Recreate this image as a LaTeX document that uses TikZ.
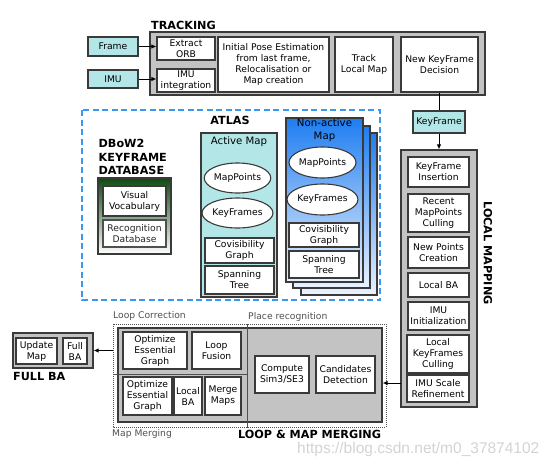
\documentclass[tikz,border=0pt]{standalone}
\usepackage{fontspec}
\setmainfont{DejaVu Sans}
\newfontfamily\wmfont{Liberation Sans}
\usetikzlibrary{shapes.geometric,arrows.meta}
\definecolor{cyanf}{HTML}{B3E6E6}
\definecolor{grayf}{HTML}{C3C3C3}
\definecolor{bordc}{HTML}{3A3A3A}
\definecolor{atlasb}{HTML}{3D96F0}
\definecolor{blueT}{HTML}{1E7DF0}
\definecolor{blueB}{HTML}{EAF2FF}
\definecolor{greenT}{HTML}{0E4A0E}
\definecolor{labg}{HTML}{505050}
\definecolor{wmc}{HTML}{D4D4D4}
\newcommand\bx[7]{\node[#1, minimum width={#5-#3}, minimum height={#6-#4}] (#2) at ({(#3+#5)/2},{(#4+#6)/2}) {#7};}
\tikzset{
 base/.style={inner sep=0pt, align=center, font=\fontsize{9.2}{11}\selectfont, text=black},
 wbox/.style={base, rectangle, draw=bordc, fill=white, line width=1.1pt},
 gbox/.style={base, rectangle, draw=bordc, fill=grayf, line width=1.3pt},
 cbox/.style={base, rectangle, draw=bordc, fill=cyanf, line width=1.1pt},
 ell/.style={base, ellipse, draw=bordc, fill=white, line width=1.1pt},
 title/.style={inner sep=0pt, font=\fontsize{11.2}{13.6}\selectfont\bfseries, align=left},
 maptitle/.style={inner sep=0pt, align=center, font=\fontsize{10.2}{13}\selectfont},
 sublab/.style={inner sep=0pt, font=\fontsize{9.2}{11}\selectfont, text=labg},
 arr/.style={-{Latex[length=5pt,width=4.5pt]}, line width=0.9pt, draw=black},
 plain/.style={line width=0.9pt, draw=black},
 dotreg/.style={draw=labg, line width=1pt, dash pattern=on 1pt off 1pt},
 card/.style={base, rectangle, draw=bordc, line width=1.1pt, top color=blueT, bottom color=blueB},
}
\begin{document}
\begin{tikzpicture}[x=1pt,y=-1pt]
\fill[white] (0,0) rectangle (554,463);
\useasboundingbox (0,0) rectangle (554,463);

% ---------------- TRACKING ----------------
\node[title, anchor=west] (trk) at (151,25) {TRACKING};
\bx{gbox}{trackbox}{150}{32}{485}{95}{}
\bx{cbox}{frame}{88}{37}{138}{56}{Frame}
\bx{cbox}{imu}{88}{70}{138}{88}{IMU}
\bx{wbox}{orb}{157}{37}{215}{60}{Extract\\ORB}
\bx{wbox}{imuint}{157}{69}{215}{92}{IMU\\integration}
\bx{wbox}{ipe}{218}{37}{329}{92}{Initial Pose Estimation\\from last frame,\\Relocalisation or\\Map creation}
\bx{wbox}{tlm}{335}{37}{393}{92}{Track\\Local Map}
\bx{wbox}{nkd}{401}{37}{478}{92}{New KeyFrame\\Decision}
\draw[arr] (frame.east) -- (frame.east -| orb.west);
\draw[arr] (imu.east) -- (imu.east -| imuint.west);

% ---------------- ATLAS ----------------
\draw[draw=atlasb, line width=2pt, dash pattern=on 6pt off 3.5pt] (82,110) rectangle (380,300);
\node[title] (atlas) at (230,120) {ATLAS};
\node[title, anchor=north west] (dbow) at (98.5,139) {DBoW2\\KEYFRAME\\DATABASE};
\bx{base, rectangle, draw=bordc, line width=1.1pt, top color=greenT, bottom color=white}{dbbox}{98}{178}{171}{254}{}
\bx{wbox}{vv}{103}{186}{166}{216}{Visual\\Vocabulary}
\bx{wbox, draw=labg, text=black!85}{rdb}{103}{220}{166}{247}{Recognition\\Database}

% active map
\bx{cbox}{active}{201}{133}{277}{297}{}
\node[maptitle] (actt) at (239,142) {Active Map};
\bx{ell}{amp}{205}{163}{270}{193}{MapPoints}
\bx{ell}{akf}{205}{198}{270}{228}{KeyFrames}
\bx{wbox}{acov}{205}{238}{274}{263}{Covisibility\\Graph}
\bx{wbox}{aspt}{205}{266}{274}{294}{Spanning\\Tree}

% non-active maps
\bx{card}{card3}{301}{133}{377}{295}{}
\bx{card}{card2}{293}{126}{370}{288}{}
\bx{card}{card1}{286}{118}{363}{282}{}
\node[maptitle] (nat) at (324.5,130.5) {Non-active\\Map};
\bx{ell}{nmp}{289}{147}{356}{178}{MapPoints}
\bx{ell}{nkf}{289}{184}{356}{215}{KeyFrames}
\bx{wbox}{ncov}{289}{223}{359}{247}{Covisibility\\Graph}
\bx{wbox}{nspt}{289}{251}{359}{278}{Spanning\\Tree}

% ---------------- LOCAL MAPPING ----------------
\bx{cbox}{kf}{413}{111}{465}{133}{KeyFrame}
\bx{gbox}{lm}{401}{150}{477}{407}{}
\bx{wbox}{kfi}{408}{157}{469}{187}{KeyFrame\\Insertion}
\bx{wbox}{rmc}{408}{194}{469}{232}{Recent\\MapPoints\\Culling}
\bx{wbox}{npc}{408}{237}{469}{268}{New Points\\Creation}
\bx{wbox}{lba}{408}{273}{469}{297}{Local BA}
\bx{wbox}{imui}{408}{302}{469}{330}{IMU\\Initialization}
\bx{wbox}{lkc}{407}{335}{469}{373}{Local\\KeyFrames\\Culling}
\bx{wbox}{isr}{407}{375}{469}{402}{IMU Scale\\Refinement}
\node[title, rotate=-90] (lmt) at (488,253) {LOCAL MAPPING};
\draw[plain] (kf.north |- nkd.south) -- (kf.north);
\draw[arr] (kf.south) -- (kf.south |- lm.north);

% ---------------- LOOP & MAP MERGING ----------------
\bx{gbox}{lmm}{118}{328}{382}{422}{}
\draw[dotreg] (113,324) rectangle (247,374);
\draw[dotreg] (113,374) rectangle (247,427);
\draw[dotreg] (247,324) rectangle (386,427);
\node[sublab, anchor=west] (lcl) at (113,316) {Loop Correction};
\node[sublab, anchor=west] (prl) at (248,317) {Place recognition};
\node[sublab, anchor=west] (mml) at (112,434) {Map Merging};
\node[title, anchor=west] (lmmt) at (238,434) {LOOP \& MAP MERGING};
\bx{wbox}{oeg1}{123}{332}{187}{369}{Optimize\\Essential\\Graph}
\bx{wbox}{lf}{192}{332}{241}{369}{Loop\\Fusion}
\bx{wbox}{oeg2}{123}{377}{172}{415}{Optimize\\Essential\\Graph}
\bx{wbox}{mlba}{174}{377}{202}{415}{Local\\BA}
\bx{wbox}{mm}{205}{377}{241}{415}{Merge\\Maps}
\bx{wbox}{sim3}{255}{356}{309}{393}{Compute\\Sim3/SE3}
\bx{wbox}{cand}{316}{356}{375}{393}{Candidates\\Detection}
\coordinate (lmout) at (401,383);
\draw[arr] (lmout) -- (lmout -| lmm.east);

% ---------------- FULL BA ----------------
\bx{gbox}{fba}{13}{333}{93}{368}{}
\bx{wbox}{um}{16}{338}{57}{364}{Update\\Map}
\bx{wbox}{fbab}{63}{338}{87}{364}{Full\\BA}
\node[title, anchor=west] (fbat) at (13,376) {FULL BA};
\draw[arr] (113,350.5) -- (fba.east);

% watermark
\node[inner sep=0pt, anchor=west, text=wmc, font=\wmfont\fontsize{15.5}{16}\selectfont] (wm) at (297,449.5) {https://blog.csdn.net/m0\_37874102};
\end{tikzpicture}
\end{document}
